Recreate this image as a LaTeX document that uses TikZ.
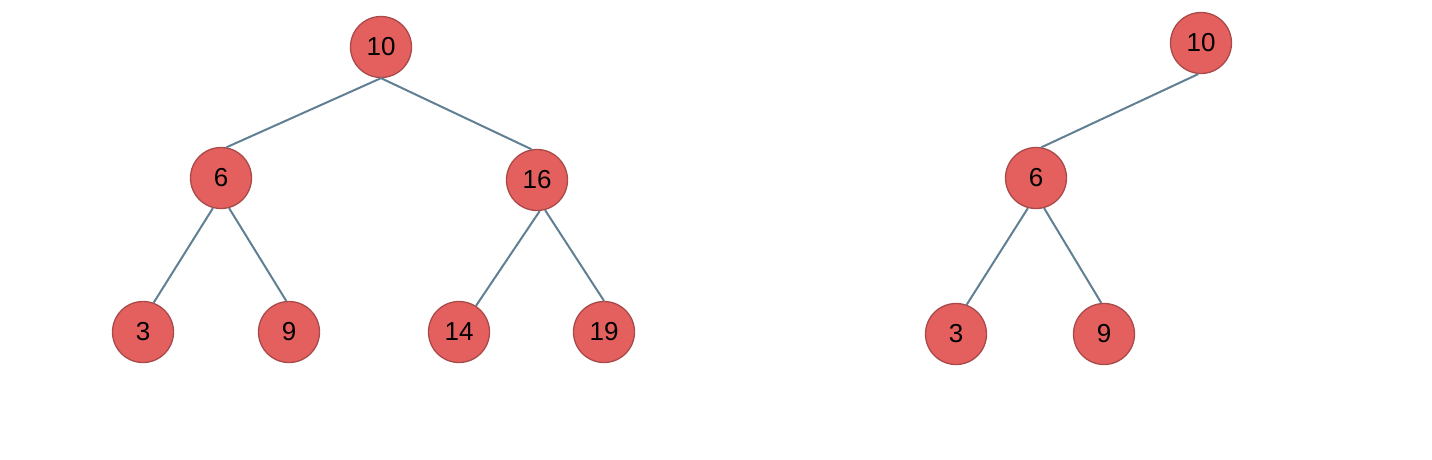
\documentclass[tikz,border=0pt]{standalone}
\usepackage{fontspec}
\setmainfont{Liberation Sans}
\definecolor{nodefill}{HTML}{E4605E}
\definecolor{nodeborder}{HTML}{A84A4A}
\definecolor{edgecol}{HTML}{617F93}
\begin{document}
\begin{tikzpicture}[x=1pt,y=-1pt,
  tnode/.style={circle,fill=nodefill,draw=nodeborder,line width=1.3pt,minimum size=61pt,inner sep=0pt,font=\fontsize{26}{26}\selectfont},
  edge/.style={draw=edgecol,line width=2pt}]
\useasboundingbox (0,0) rectangle (1432,460);
% left tree
\node[tnode] (a10) at (381,47) {10};
\node[tnode] (a6) at (221,178) {6};
\node[tnode] (a16) at (537,180) {16};
\node[tnode] (a3) at (143,332) {3};
\node[tnode] (a9) at (289,332) {9};
\node[tnode] (a14) at (459,332) {14};
\node[tnode] (a19) at (604,332) {19};
% right tree
\node[tnode] (b10) at (1201,43) {10};
\node[tnode] (b6) at (1036,178) {6};
\node[tnode] (b3) at (956,334) {3};
\node[tnode] (b9) at (1104,334) {9};
% edges
\draw[edge] (a10.south) -- (a6.80);
\draw[edge] (a10.south) -- (a16.100);
\draw[edge] (a6.255) -- (a3.70);
\draw[edge] (a6.285) -- (a9.95);
\draw[edge] (a16.275) -- (a14.57);
\draw[edge] (a16.285) -- (a19.90);
\draw[edge] (b10.265) -- (b6.80);
\draw[edge] (b6.255) -- (b3.70);
\draw[edge] (b6.285) -- (b9.95);
\end{tikzpicture}
\end{document}
